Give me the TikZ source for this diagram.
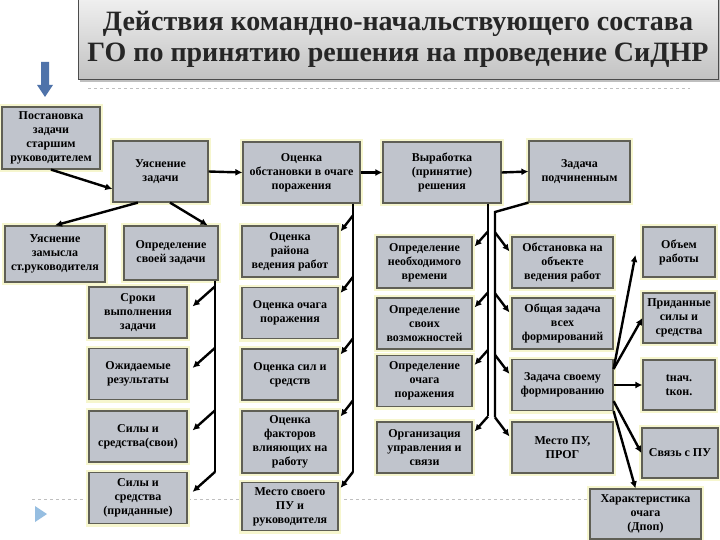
\documentclass[tikz,border=0pt]{standalone}
\usepackage{fontspec}
\setmainfont{Liberation Serif}
\usetikzlibrary{calc,arrows.meta,shadows}
\definecolor{boxgray}{RGB}{192,196,204}
\definecolor{boxline}{RGB}{95,95,85}
\definecolor{halo}{RGB}{246,246,206}
\definecolor{arrowblue}{RGB}{79,115,170}
\definecolor{playblue}{RGB}{150,190,225}

\begin{document}
\begin{tikzpicture}[x=1pt,y=-1pt,
  blk/.style={draw=boxline, line width=1.2pt, fill=boxgray,
    preaction={draw=halo, line width=6pt}, align=center, inner sep=1pt,
    font=\bfseries\fontsize{12}{14}\selectfont},
  sz/.style 2 args={minimum width=#1pt, minimum height=#2pt},
  arr/.style={line width=2.4pt, -{Latex[length=7pt,width=7pt]}},
  trunk/.style={line width=2.4pt}]
  \useasboundingbox[fill=white] (0,0) rectangle (720,540);
  % dashed guide lines and marks
  \draw[gray!50, dashed] (88,88) -- (690,88);
  \draw[gray!50, dashed] (32,499) -- (590,499);
  \fill[arrowblue] (41,62) -- (49,62) -- (49,85) -- (53,85) -- (45,97) -- (37,85) -- (41,85) -- cycle;
  \fill[playblue] (35,506) -- (47,514) -- (35,522) -- cycle;
  % title
  \node[draw=gray!60!black, line width=1pt, top color=gray!12, bottom color=gray!48,
    drop shadow, minimum width=640pt, minimum height=82pt, align=center,
    text=black!85, font=\bfseries\fontsize{28}{31}\selectfont] (title) at (398,39)
    {Действия командно-начальствующего состава\\ГО по принятию решения на проведение СиДНР};
  % first column
  \node[blk, sz={98}{62}] (a1) at (51,138) {Постановка\\задачи\\старшим\\руководителем};
  \node[blk, sz={100}{56}] (a2) at (55,254) {Уяснение\\замысла\\ст.руководителя};
  % second column
  \node[blk, sz={95}{61}] (b1) at (160.5,171.5) {Уяснение\\задачи};
  \node[blk, sz={94}{54}] (b2) at (171,253) {Определение\\своей задачи};
  \node[blk, sz={98}{51}] (b3) at (138,312.5) {Сроки\\выполнения\\задачи};
  \node[blk, sz={98}{51}] (b4) at (138,374) {Ожидаемые\\результаты};
  \node[blk, sz={98}{51}] (b5) at (138,436.5) {Силы и\\средства(свои)};
  \node[blk, sz={98}{51}] (b6) at (138,498) {Силы и\\средства\\(приданные)};
  % third column
  \node[blk, sz={117}{61}] (c1) at (301.5,172.5) {Оценка\\обстановки в очаге\\поражения};
  \node[blk, sz={96}{51}] (c2) at (290,251.5) {Оценка\\района\\ведения работ};
  \node[blk, sz={96}{51}] (c3) at (290,313) {Оценка очага\\поражения};
  \node[blk, sz={96}{51}] (c4) at (290,374.5) {Оценка сил и\\средств};
  \node[blk, sz={96}{62}] (c5) at (290,442) {Оценка\\факторов\\влияющих на\\работу};
  \node[blk, sz={96}{48}] (c6) at (290,506.5) {Место своего\\ПУ и\\руководителя};
  % fourth column
  \node[blk, sz={118}{61}] (d1) at (442,172.5) {Выработка\\(принятие)\\решения};
  \node[blk, sz={95}{51}] (d2) at (424.5,262.5) {Определение\\необходимого\\времени};
  \node[blk, sz={95}{51}] (d3) at (424.5,323.5) {Определение\\своих\\возможностей};
  \node[blk, sz={95}{51}] (d4) at (424.5,381) {Определение\\очага\\поражения};
  \node[blk, sz={95}{51}] (d5) at (424.5,447.5) {Организация\\управления и\\связи};
  % fifth column
  \node[blk, sz={101}{61}] (e1) at (579.5,171.5) {Задача\\подчиненным};
  \node[blk, sz={101}{51}] (e2) at (562.5,262.5) {Обстановка на\\объекте\\ведения работ};
  \node[blk, sz={101}{51}] (e3) at (562.5,323.5) {Общая задача\\всех\\формирований};
  \node[blk, sz={101}{51}] (e4) at (562.5,385) {Задача своему\\формированию};
  \node[blk, sz={101}{51}] (e5) at (562.5,447.5) {Место ПУ,\\ПРОГ};
  % sixth column
  \node[blk, sz={72}{50}] (f1) at (679,252) {Объем\\работы};
  \node[blk, sz={72}{50}] (f2) at (679,318) {Приданные\\силы и\\средства};
  \node[blk, sz={72}{50}] (f3) at (679,385) {tнач.\\tкон.};
  \node[blk, sz={76}{50}] (f4) at (680,453) {Связь с ПУ};
  \node[blk, sz={111}{50}] (f5) at (645.5,514) {Характеристика\\очага\\(Дпоп)};
  % top row
  \draw[arr] (a1.south) -- (b1.200);
  \draw[arr] (b1.234) -- (a2.north);
  \draw[arr] (b1.287) -- (b2.37);
  \draw[arr] (b1.east) -- (c1.west);
  \draw[arr] (c1.east) -- (d1.west);
  \draw[arr] (d1.east) -- (e1.west);
  % trunks
  \coordinate (t2) at (215,0);
  \coordinate (t3) at (353,0);
  \coordinate (t4) at (488,0);
  \coordinate (k5) at (495,212);
  \draw[trunk] (b2.south -| t2) -- (b6.north -| t2);
  \draw[trunk] (c1.south -| t3) -- ($(c6.north -| t3)+(0,-10)$);
  \draw[trunk] (d1.south -| t4) -- ($(d5.north -| t4)+(0,-5)$);
  \draw[trunk] (e1.south west) -- (k5) -- ($(e5.north -| k5)+(0,-4)$);
  \foreach \n in {b3,b4,b5,b6}
    \draw[arr] (\n.north -| t2) -- ($(\n.north east)+(5,20)$);
  \foreach \n in {c2,c3,c4,c5,c6}
    \draw[arr] ($(\n.north -| t3)+(0,-10)$) -- ($(\n.north east)+(2,6)$);
  \foreach \n in {d2,d3,d4,d5}
    \draw[arr] ($(\n.north -| t4)+(0,-5)$) -- ($(\n.north east)+(2,10)$);
  \foreach \n in {e2,e3,e4,e5}
    \draw[arr] ($(\n.north -| k5)+(0,-4)$) -- ($(\n.north west)+(-2,15)$);
  % fan out of e4
  \draw[arr] ($(e4.north east)+(0,10)$) -- ($(f1.west)+(-7,3)$);
  \draw[arr] ($(e4.north east)+(0,10)$) -- (f2.west);
  \draw[arr] (e4.east) -- (f3.west);
  \draw[arr] ($(e4.south east)+(0,-10)$) -- (f4.west);
  \draw[arr] (e4.south east) -- ($(f5.north)+(-10,0)$);
\end{tikzpicture}
\end{document}
